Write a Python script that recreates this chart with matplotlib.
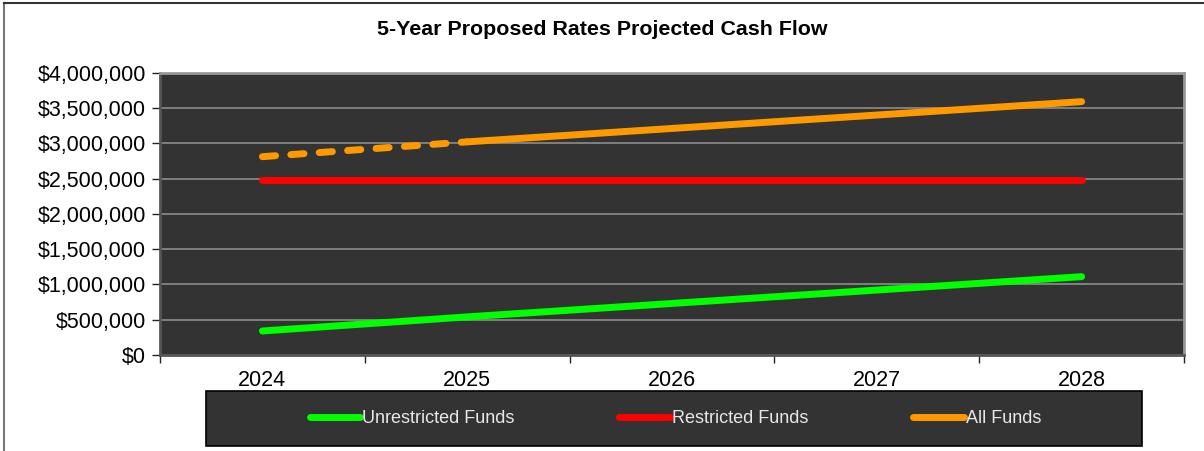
import matplotlib
matplotlib.use("Agg")
from matplotlib import pyplot as plt
from matplotlib.ticker import FuncFormatter
from matplotlib.lines import Line2D
from matplotlib.patches import Rectangle

plt.rcParams['font.family'] = ['Liberation Sans', 'DejaVu Sans']

years = ['2024', '2025', '2026', '2027', '2028']
unrestricted = [340000, 540000, 730000, 920000, 1110000]
restricted = [2480000, 2480000, 2480000, 2480000, 2480000]
all_funds = [2810000, 3020000, 3210000, 3400000, 3590000]

green = '#00ff00'
red = '#ff0000'
orange = '#ff9900'
dark = '#333333'
lw = 5

fig = plt.figure(figsize=(12.04, 4.51), dpi=100)
ax = fig.add_axes([0.1329, 0.2129, 0.8505, 0.6259])
ax.set_facecolor(dark)

x = list(range(len(years)))

ax.plot(x, unrestricted, color=green, lw=lw, solid_capstyle='round', zorder=3)
ax.plot(x, restricted, color=red, lw=lw, solid_capstyle='round', zorder=3)
# first year is dashed, the rest solid
ax.plot(x[:2], all_funds[:2], color=orange, lw=lw, dashes=(1.9, 2.2),
        dash_capstyle='round', zorder=3)
ax.plot(x[1:], all_funds[1:], color=orange, lw=lw, solid_capstyle='round', zorder=3)

ax.set_xlim(-0.5, len(years) - 0.5)
ax.set_ylim(0, 4000000)
ax.set_yticks(range(0, 4000001, 500000))
ax.yaxis.set_major_formatter(FuncFormatter(lambda v, p: '${:,.0f}'.format(v)))
ax.grid(axis='y', color='#8c8c8c', lw=1.2, zorder=1)
ax.set_axisbelow(True)

ax.set_xticks([i - 0.5 for i in range(len(years) + 1)])
ax.set_xticklabels([])
ax.set_xticks(x, minor=True)
ax.set_xticklabels(years, minor=True)
ax.tick_params(axis='x', which='major', length=6, width=1, color='#222222', direction='out')
ax.tick_params(axis='x', which='minor', length=0, pad=11, labelsize=15.5)
ax.tick_params(axis='y', length=6, width=1, color='#222222', labelsize=15.5, pad=4)

for s in ax.spines.values():
    s.set_color('#999999')
    s.set_linewidth(2)
ax.spines['left'].set_color('#555555')
ax.spines['bottom'].set_color('#555555')

fig.text(0.5, 0.935, '5-Year Proposed Rates Projected Cash Flow', ha='center', va='center',
         fontsize=15.4, fontweight='bold')

# legend box
fig.patches.append(Rectangle((0.1711, 0.0111), 0.7774, 0.122, transform=fig.transFigure,
                             facecolor=dark, edgecolor='black', lw=1.2))
handles = [Line2D([], [], color=green, lw=lw, solid_capstyle='round'),
           Line2D([], [], color=red, lw=lw, solid_capstyle='round'),
           Line2D([], [], color=orange, lw=lw, solid_capstyle='round')]
leg = fig.legend(handles, ['Unrestricted Funds', 'Restricted Funds', 'All Funds'],
                 loc='center', bbox_to_anchor=(0.561, 0.072), ncol=3, frameon=False,
                 fontsize=13, handlelength=2.8, handletextpad=0.12, columnspacing=5.8)
for t in leg.get_texts():
    t.set_color('#e8e8e8')

# outer border
fig.add_artist(Line2D([0.003, 0.003], [0, 0.993], transform=fig.transFigure, color='#777777', lw=1.5))
fig.add_artist(Line2D([0.003, 1], [0.993, 0.993], transform=fig.transFigure, color='#333333', lw=1.5))

fig.savefig('out.png', dpi=100)
